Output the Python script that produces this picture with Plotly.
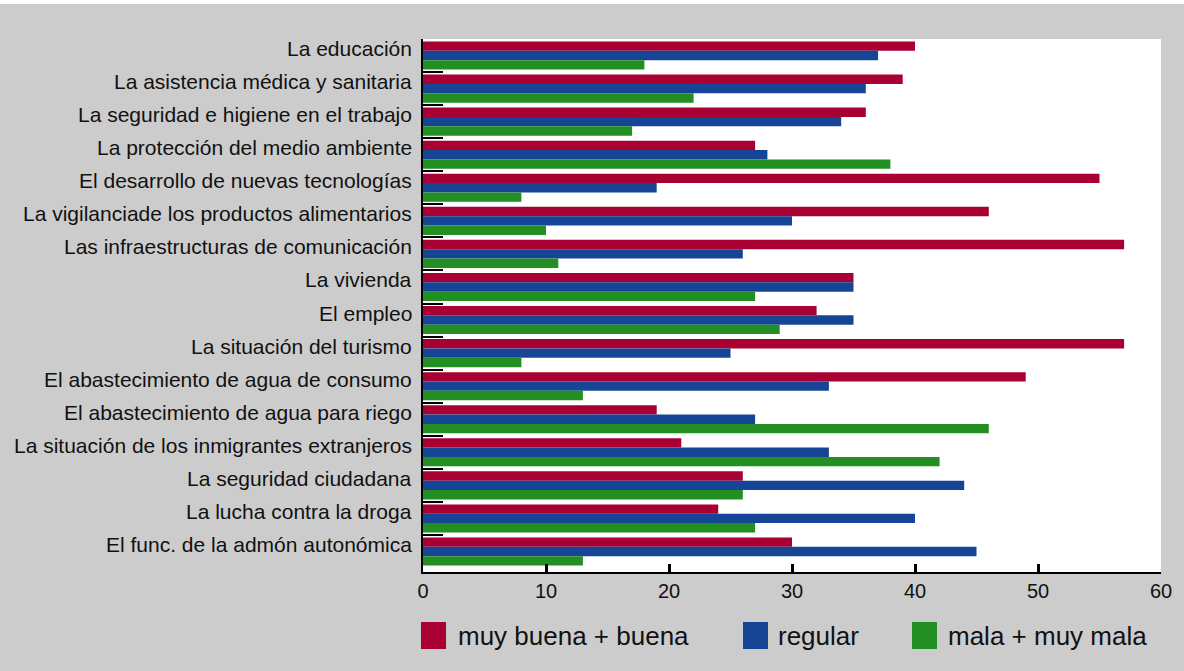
import plotly.graph_objects as go

CATEGORIES = [
    "La educación",
    "La asistencia médica y sanitaria",
    "La seguridad e higiene en el trabajo",
    "La protección del medio ambiente",
    "El desarrollo de nuevas tecnologías",
    "La vigilanciade los productos alimentarios",
    "Las infraestructuras de comunicación",
    "La vivienda",
    "El empleo",
    "La situación del turismo",
    "El abastecimiento de agua de consumo",
    "El abastecimiento de agua para riego",
    "La situación de los inmigrantes extranjeros",
    "La seguridad ciudadana",
    "La lucha contra la droga",
    "El func. de la admón autonómica",
]
BUENA = [40, 39, 36, 27, 55, 46, 57, 35, 32, 57, 49, 19, 21, 26, 24, 30]
REGULAR = [37, 36, 34, 28, 19, 30, 26, 35, 35, 25, 33, 27, 33, 44, 40, 45]
MALA = [18, 22, 17, 38, 8, 10, 11, 27, 29, 8, 13, 46, 42, 26, 27, 13]
SERIES = ["muy buena + buena", "regular", "mala + muy mala"]

RED = "#a80033"
BLUE = "#174596"
GREEN = "#238f22"
PAPER = "#cccccc"
INK = "#111111"
FONT = "Liberation Sans, Arial, sans-serif"

W, H = 1184, 671
L, R, T, B = 423, 23, 39, 99


def px_x(p):
    return (p - L) / (W - L - R)


def px_y(p):
    return (H - B - p) / (H - T - B)


fig = go.Figure()
for name, vals, col in zip(SERIES, [BUENA, REGULAR, MALA], [RED, BLUE, GREEN]):
    fig.add_trace(go.Bar(
        name=name, x=vals, y=CATEGORIES, orientation="h",
        marker=dict(color=col, line=dict(width=0)),
        showlegend=False,
    ))

shapes = [dict(type="rect", xref="paper", yref="paper",
               x0=px_x(0), x1=px_x(W), y0=px_y(4), y1=px_y(0),
               fillcolor="white", line_width=0, layer="below")]
annotations = []

# category labels sit a little above the band centre, as in the original
for cat in CATEGORIES:
    annotations.append(dict(xref="paper", yref="y", x=px_x(414), y=cat, yshift=7,
                            text=cat, showarrow=False, xanchor="right", yanchor="middle",
                            font=dict(size=21, color=INK, family=FONT)))

# hand-made legend with large swatches
legend_items = [(421, 456, RED), (743, 776, BLUE), (912, 946, GREEN)]
for (sx, tx, col), name in zip(legend_items, SERIES):
    shapes.append(dict(type="rect", xref="paper", yref="paper",
                       x0=px_x(sx), x1=px_x(sx + 25), y0=px_y(649), y1=px_y(622),
                       fillcolor=col, line_width=0))
    annotations.append(dict(xref="paper", yref="paper", x=px_x(tx), y=px_y(636),
                            text=name, showarrow=False, xanchor="left", yanchor="middle",
                            font=dict(size=26, color=INK, family=FONT)))

fig.update_layout(
    width=W, height=H,
    barmode="group", bargap=0.15, bargroupgap=0,
    paper_bgcolor=PAPER, plot_bgcolor="white",
    margin=dict(l=L, r=R, t=T, b=B, pad=0),
    font=dict(family=FONT, size=20, color=INK),
    shapes=shapes, annotations=annotations,
    xaxis=dict(range=[0, 60], dtick=10, showgrid=False, zeroline=False,
               showline=True, linecolor="black", linewidth=2,
               ticks="inside", ticklen=8, tickwidth=3, tickcolor="black",
               tickfont=dict(size=20)),
    yaxis=dict(categoryorder="array", categoryarray=CATEGORIES,
               autorange="reversed", showticklabels=False,
               showgrid=False, zeroline=False,
               showline=True, linecolor="black", linewidth=2,
               ticks="inside", tickson="boundaries", ticklen=20, tickwidth=2,
               tickcolor="black"),
)

fig.write_html("out.html", config={"displayModeBar": False},
               post_script="document.body.style.margin='0';")
